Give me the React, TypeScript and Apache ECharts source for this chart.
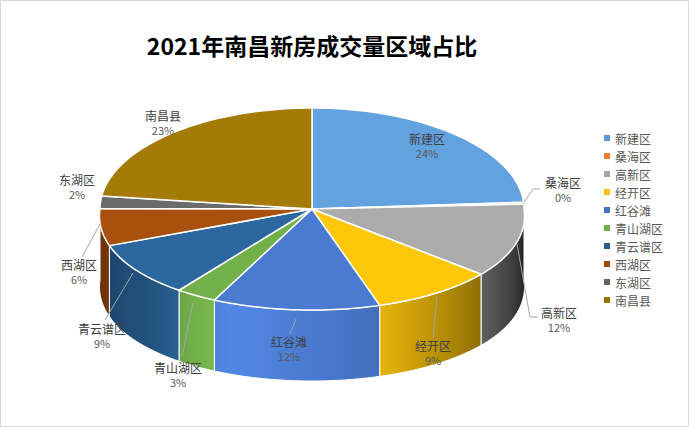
import React, { useEffect, useRef } from 'react';
import * as echarts from 'echarts';

// ---------- data ----------
const chartTitle = '2021年南昌新房成交量区域占比';
const categories = ['新建区', '桑海区', '高新区', '经开区', '红谷滩', '青山湖区', '青云谱区', '西湖区', '东湖区', '南昌县'];
const shares = [24, 0.3, 12, 9, 12, 3, 9, 6, 2, 23];

// ---------- styles ----------
const topColors = ['#62A2DF', '#ED7D31', '#ABABAB', '#FFC70A', '#4A7BD0', '#72B04A', '#2C67A0', '#A9500F', '#6B6B6B', '#A47B06'];
const legendColors = ['#5B9BD5', '#ED7D31', '#A5A5A5', '#FFC000', '#4472C4', '#70AD47', '#255E91', '#9E480E', '#636363', '#997300'];
const FONT = "'Noto Sans CJK SC', 'Microsoft YaHei', sans-serif";

// ---------- layout ----------
const CX = 312, CY = 209, RX = 212, RY = 101, DEPTH = 71, PERSP = 0.07;
const labelPos: [number, number][] = [
  [427, 138], [563, 182], [559, 312], [433, 345], [289, 341],
  [178, 367], [102, 328], [79, 264], [77, 179], [163, 115],
];
const leaderLines: number[][][] = [
  [], [[523, 204], [533, 189], [540, 189]], [[517, 244], [530, 317], [538, 317]],
  [[437, 297], [433, 338]], [[296, 319], [290, 334]], [[193, 302], [182, 357]],
  [[133, 273], [105, 320]], [[100, 224], [82, 257]], [], [],
];
// wall brightness by angle (clockwise from 12 o'clock)
const LIGHT: [number, number][] = [[90, 0.1], [130, 0.55], [162, 0.9], [200, 1.1], [212, 1.0], [225, 0.8], [249, 0.68], [270, 0.6]];

const total = shares.reduce((a, b) => a + b, 0);
const starts: number[] = [];
shares.reduce((acc, v, i) => { starts[i] = (acc / total) * 360; return acc + v; }, 0);

function light(t: number): number {
  if (t <= LIGHT[0][0]) return LIGHT[0][1];
  for (let k = 1; k < LIGHT.length; k++) {
    if (t <= LIGHT[k][0]) {
      const [a, fa] = LIGHT[k - 1];
      const [b, fb] = LIGHT[k];
      return fa + ((t - a) / (b - a)) * (fb - fa);
    }
  }
  return LIGHT[LIGHT.length - 1][1];
}
function shade(hex: string, f: number): string {
  const n = parseInt(hex.slice(1), 16);
  const c = (v: number) => Math.max(0, Math.min(255, Math.round(v * f)));
  return `rgb(${c((n >> 16) & 255)},${c((n >> 8) & 255)},${c(n & 255)})`;
}
const pt = (deg: number, dy = 0): number[] => {
  const r = (deg * Math.PI) / 180;
  const c = Math.cos(r);
  const s = c < 0 ? 1 - PERSP * c : 1;
  return [CX + RX * Math.sin(r) * s, CY - RY * c + dy];
};
const arc = (a: number, b: number, dy = 0): number[][] => {
  const n = Math.max(2, Math.ceil(Math.abs(b - a) / 1.5));
  const out: number[][] = [];
  for (let k = 0; k <= n; k++) out.push(pt(a + ((b - a) * k) / n, dy));
  return out;
};

function sliceRenderer(i: number) {
  return (_params: any, api: any) => {
    const v = api.value(0) as number;
    const a0 = starts[i];
    const a1 = a0 + (v / total) * 360;
    const children: any[] = [];
    const t0 = Math.max(a0, 90), t1 = Math.min(a1, 270);
    if (t1 > t0) {
      const top = arc(t0, t1);
      const bot = arc(t1, t0, DEPTH);
      const xs = top.map((p) => p[0]);
      const minX = Math.min(...xs), maxX = Math.max(...xs) + 0.01;
      const stops: { offset: number; color: string }[] = [];
      for (let k = 0; k <= 10; k++) {
        const th = t0 + ((t1 - t0) * k) / 10;
        stops.push({ offset: (pt(th)[0] - minX) / (maxX - minX), color: shade(topColors[i], light(th)) });
      }
      stops.sort((p, q) => p.offset - q.offset);
      children.push({
        type: 'polygon',
        shape: { points: [...top, ...bot] },
        style: {
          fill: { type: 'linear', x: minX, y: 0, x2: maxX, y2: 0, global: true, colorStops: stops },
          stroke: '#ffffff',
          lineWidth: 1,
        },
      });
    }
    children.push({
      type: 'polygon',
      shape: { points: [[CX, CY], ...arc(a0, a1)] },
      style: { fill: topColors[i], stroke: '#ffffff', lineWidth: 1.5, lineJoin: 'round' },
    });
    return { type: 'group', children };
  };
}

function labelRenderer(params: any, api: any) {
  const i = params.dataIndex;
  const v = api.value(0) as number;
  const [x, y] = labelPos[i];
  const children: any[] = [];
  if (leaderLines[i].length) {
    children.push({ type: 'polyline', shape: { points: leaderLines[i] }, style: { stroke: '#A6A6A6', lineWidth: 1, fill: 'none' } });
  }
  children.push({
    type: 'text', x, y,
    style: { text: categories[i], fill: '#404040', fontSize: 12, fontFamily: FONT, align: 'center', verticalAlign: 'middle' },
  });
  children.push({
    type: 'text', x, y: y + 15,
    style: { text: Math.round((v / total) * 100) + '%', fill: '#595959', fontSize: 11, fontFamily: FONT, align: 'center', verticalAlign: 'middle' },
  });
  return { type: 'group', children };
}

export default function App() {
  const ref = useRef<HTMLDivElement>(null);
  useEffect(() => {
    if (!ref.current) return;
    const chart = echarts.init(ref.current, undefined, { renderer: 'svg' });
    const series: any[] = categories.map((name, i) => ({
      type: 'custom',
      name,
      coordinateSystem: 'none',
      silent: true,
      itemStyle: { color: legendColors[i] },
      data: [shares[i]],
      renderItem: sliceRenderer(i),
    }));
    series.push({
      type: 'custom',
      name: 'labels',
      coordinateSystem: 'none',
      silent: true,
      data: shares,
      renderItem: labelRenderer,
    });
    chart.setOption({
      animation: false,
      backgroundColor: '#ffffff',
      color: legendColors,
      legend: {
        orient: 'vertical',
        left: 599,
        top: 126,
        itemWidth: 6,
        itemHeight: 6,
        itemGap: 4,
        icon: 'rect',
        selectedMode: false,
        data: categories,
        textStyle: { fontSize: 12, color: '#595959', fontFamily: FONT, lineHeight: 14 },
      },
      graphic: [
        {
          type: 'rect',
          shape: { x: 0.5, y: 0.5, width: 688, height: 426 },
          style: { fill: 'none', stroke: '#D9D9D9', lineWidth: 1 },
          silent: true,
        },
        {
          type: 'text',
          x: 312,
          y: 45,
          style: { text: chartTitle, fill: '#000000', fontSize: 23, fontWeight: 'bold', fontFamily: FONT, align: 'center', verticalAlign: 'middle' },
          silent: true,
        },
      ],
      series,
    });
    return () => chart.dispose();
  }, []);
  return <div ref={ref} style={{ position: 'fixed', left: 0, top: 0, width: 691, height: 428 }} />;
}
